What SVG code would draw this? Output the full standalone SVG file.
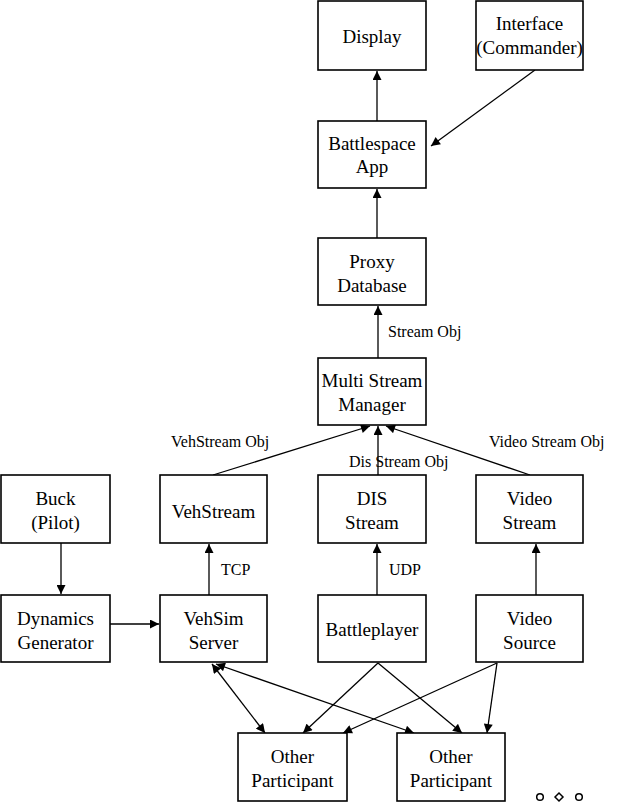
<svg xmlns="http://www.w3.org/2000/svg" width="620" height="807" viewBox="0 0 620 807">
<style>
.box{fill:#fff;stroke:#000;stroke-width:1.6}
.t{font-family:"Liberation Serif","Times New Roman",serif;font-size:19px;text-anchor:middle;fill:#000}
.l{font-family:"Liberation Serif","Times New Roman",serif;font-size:16px;fill:#000}
.c{stroke:#000;stroke-width:1.3;fill:none}
</style>
<defs>
<marker id="ah" viewBox="0 0 10 10" refX="10" refY="5" markerWidth="10" markerHeight="9" markerUnits="userSpaceOnUse" orient="auto-start-reverse">
<path d="M0,0 L10,5 L0,10 z" fill="#000"/>
</marker>
</defs>
<g id="connectors">
<line class="c" x1="377" y1="121" x2="377" y2="71" marker-end="url(#ah)"/>
<line class="c" x1="535" y1="70" x2="431" y2="146" marker-end="url(#ah)"/>
<line class="c" x1="377" y1="238" x2="377" y2="189" marker-end="url(#ah)"/>
<line class="c" x1="378" y1="358" x2="378" y2="306" marker-end="url(#ah)"/>
<line class="c" x1="213" y1="475" x2="370" y2="426" marker-end="url(#ah)"/>
<line class="c" x1="378" y1="475" x2="378" y2="426" marker-end="url(#ah)"/>
<line class="c" x1="530" y1="475" x2="386" y2="426" marker-end="url(#ah)"/>
<line class="c" x1="61" y1="543" x2="61" y2="594" marker-end="url(#ah)"/>
<line class="c" x1="110" y1="624" x2="159" y2="624" marker-end="url(#ah)"/>
<line class="c" x1="209" y1="595" x2="209" y2="544" marker-end="url(#ah)"/>
<line class="c" x1="377" y1="595" x2="377" y2="544" marker-end="url(#ah)"/>
<line class="c" x1="536" y1="595" x2="536" y2="544" marker-end="url(#ah)"/>
<line class="c" x1="212" y1="664" x2="265" y2="733" marker-start="url(#ah)" marker-end="url(#ah)"/>
<line class="c" x1="216" y1="664" x2="414" y2="733" marker-start="url(#ah)" marker-end="url(#ah)"/>
<line class="c" x1="378" y1="663" x2="303" y2="733" marker-end="url(#ah)"/>
<line class="c" x1="378" y1="663" x2="462" y2="733" marker-end="url(#ah)"/>
<line class="c" x1="497" y1="663" x2="343" y2="733" marker-end="url(#ah)"/>
<line class="c" x1="497" y1="663" x2="487" y2="733" marker-end="url(#ah)"/>
<text class="l" x="388" y="337">Stream Obj</text>
<text class="l" x="171" y="447">VehStream Obj</text>
<text class="l" x="349" y="467">Dis Stream Obj</text>
<text class="l" x="489" y="447">Video Stream Obj</text>
<text class="l" x="221" y="575">TCP</text>
<text class="l" x="389" y="575">UDP</text>
</g>
<g id="display"><rect class="box" x="318" y="1" width="108" height="69"/><text class="t" x="372" y="43">Display</text></g>
<g id="interface"><rect class="box" x="476" y="1" width="107" height="69"/><text class="t" x="529.5" y="30">Interface</text><text class="t" x="529.5" y="54">(Commander)</text></g>
<g id="battlespace"><rect class="box" x="318" y="121" width="108" height="67"/><text class="t" x="372" y="150">Battlespace</text><text class="t" x="372" y="173">App</text></g>
<g id="proxy"><rect class="box" x="318" y="238" width="108" height="67"/><text class="t" x="372" y="268">Proxy</text><text class="t" x="372" y="292">Database</text></g>
<g id="msm"><rect class="box" x="318" y="358" width="108" height="67"/><text class="t" x="372" y="387">Multi Stream</text><text class="t" x="372" y="411">Manager</text></g>
<g id="buck"><rect class="box" x="1" y="475" width="109" height="68"/><text class="t" x="55.5" y="505">Buck</text><text class="t" x="55.5" y="529">(Pilot)</text></g>
<g id="vehstream"><rect class="box" x="160" y="475" width="107" height="68"/><text class="t" x="213.5" y="518">VehStream</text></g>
<g id="disstream"><rect class="box" x="318" y="475" width="108" height="68"/><text class="t" x="372" y="505">DIS</text><text class="t" x="372" y="529">Stream</text></g>
<g id="videostream"><rect class="box" x="476" y="475" width="107" height="68"/><text class="t" x="529.5" y="505">Video</text><text class="t" x="529.5" y="529">Stream</text></g>
<g id="dynamics"><rect class="box" x="1" y="595" width="109" height="67"/><text class="t" x="55.5" y="625">Dynamics</text><text class="t" x="55.5" y="649">Generator</text></g>
<g id="vehsim"><rect class="box" x="160" y="595" width="107" height="67"/><text class="t" x="213.5" y="625">VehSim</text><text class="t" x="213.5" y="649">Server</text></g>
<g id="battleplayer"><rect class="box" x="318" y="595" width="108" height="67"/><text class="t" x="372" y="636">Battleplayer</text></g>
<g id="videosource"><rect class="box" x="476" y="595" width="107" height="67"/><text class="t" x="529.5" y="625">Video</text><text class="t" x="529.5" y="649">Source</text></g>
<g id="other1"><rect class="box" x="238" y="733" width="109" height="68"/><text class="t" x="292.5" y="763">Other</text><text class="t" x="292.5" y="787">Participant</text></g>
<g id="other2"><rect class="box" x="397" y="733" width="108" height="68"/><text class="t" x="451" y="763">Other</text><text class="t" x="451" y="787">Participant</text></g>
<g id="ellipsis" fill="none" stroke="#000" stroke-width="1.5">
<circle cx="540" cy="797" r="3.3"/>
<path d="M555,797 L559,793 L563,797 L559,801 z"/>
<circle cx="579" cy="797" r="3.3"/>
</g>
</svg>
